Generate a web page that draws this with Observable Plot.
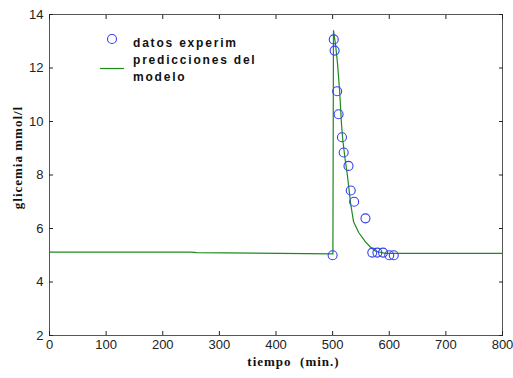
<!DOCTYPE html>
<html><head><meta charset="utf-8">
<script src="https://cdn.jsdelivr.net/npm/d3@7"></script>
<script src="https://cdn.jsdelivr.net/npm/@observablehq/plot@0.6"></script>
<style>body{margin:0;background:#fff}</style>
</head><body><div id="chart"></div>
<script>
// Experimental data (time in min, glycemia in mmol/l)
const expTime    = [500, 502, 503.5, 508, 510.5, 516.5, 519.5, 528, 532, 538, 558, 570, 579, 589, 600, 608];
const expGlucose = [5.0, 13.07, 12.65, 11.13, 10.27, 9.41, 8.84, 8.34, 7.42, 7.0, 6.38, 5.1, 5.1, 5.1, 5.0, 5.0];

// Model predictions
const modelTime    = [0, 250, 260, 500, 500.5, 501.5, 505, 508.5, 512.5, 515.7, 518, 522, 526, 529, 532, 537, 546, 558, 567, 576, 593, 800];
const modelGlucose = [5.12, 5.12, 5.10, 5.05, 5.05, 13.4, 12.9, 12.2, 11.1, 9.9, 9.3, 8.6, 8.0, 7.45, 6.9, 6.25, 5.85, 5.5, 5.3, 5.15, 5.07, 5.07];

const xTicks = [0, 100, 200, 300, 400, 500, 600, 700, 800];
const yTicks = [2, 4, 6, 8, 10, 12, 14];
const legendLabels = ["datos experim", "predicciones del", "modelo"];
const xTitle = "tiempo  (min.)";
const yTitle = "glicemia mmol/l";

const exp = expTime.map((t, i) => ({t, g: expGlucose[i]}));
const model = modelTime.map((t, i) => ({t, g: modelGlucose[i]}));

const dotColor = "#3340f0";
const lineColor = "#1e8a1e";

function decorations(index, scales, values, dims) {
  const g = d3.create("svg:g");
  const fx = dims.marginLeft, fy = dims.marginTop;
  const fw = dims.width - dims.marginLeft - dims.marginRight;
  const fh = dims.height - dims.marginTop - dims.marginBottom;
  // legend
  g.append("circle").attr("cx", fx + 63).attr("cy", fy + 25).attr("r", 4.5)
    .attr("fill", "none").attr("stroke", dotColor).attr("stroke-width", 1.1);
  g.append("line").attr("x1", fx + 51).attr("x2", fx + 75).attr("y1", fy + 54.5).attr("y2", fy + 54.5)
    .attr("stroke", lineColor).attr("stroke-width", 1.2);
  legendLabels.forEach((s, i) => {
    g.append("text").attr("x", fx + 84).attr("y", fy + 33 + i * 17).attr("text-anchor", "start")
      .attr("font-family", "Arial, 'Liberation Sans', sans-serif").attr("font-weight", "bold")
      .attr("font-size", 12).attr("letter-spacing", "1.8px").attr("fill", "#111").text(s);
  });
  // axis titles
  g.append("text").attr("x", fx + fw / 2 + 18).attr("y", fy + fh + 31).attr("text-anchor", "middle")
    .attr("font-family", "'Liberation Serif', 'Times New Roman', serif").attr("font-weight", "bold")
    .attr("font-size", 13).attr("letter-spacing", "1px").attr("fill", "#111")
    .style("white-space", "pre").text(xTitle);
  g.append("text").attr("transform", `translate(22,${fy + fh / 2 - 17}) rotate(-90)`).attr("text-anchor", "middle")
    .attr("font-family", "'Liberation Serif', 'Times New Roman', serif").attr("font-weight", "bold")
    .attr("font-size", 13).attr("letter-spacing", "1px").attr("fill", "#111").text(yTitle);
  return g.node();
}

const chart = Plot.plot({
  width: 513, height: 378,
  marginLeft: 49, marginRight: 11, marginTop: 14, marginBottom: 43,
  style: {fontFamily: "Arial, 'Liberation Sans', sans-serif", fontSize: "13px", color: "#222", background: "#fff"},
  x: {domain: [0, 800]},
  y: {domain: [2, 14]},
  marks: [
    Plot.frame({stroke: "#555"}),
    Plot.axisX(xTicks, {anchor: "bottom", tickSize: -4, tickPadding: 8, label: null}),
    Plot.axisX(xTicks, {anchor: "top", tickSize: -4, tickFormat: () => "", label: null}),
    Plot.axisY(yTicks, {anchor: "left", tickSize: -4, tickPadding: 10, label: null}),
    Plot.axisY(yTicks, {anchor: "right", tickSize: -4, tickFormat: () => "", label: null}),
    Plot.line(model, {x: "t", y: "g", stroke: lineColor, strokeWidth: 1.2}),
    Plot.dot(exp, {x: "t", y: "g", r: 4.5, stroke: dotColor, strokeWidth: 1.1}),
    decorations
  ]
});
document.getElementById("chart").appendChild(chart);
</script>
</body></html>
